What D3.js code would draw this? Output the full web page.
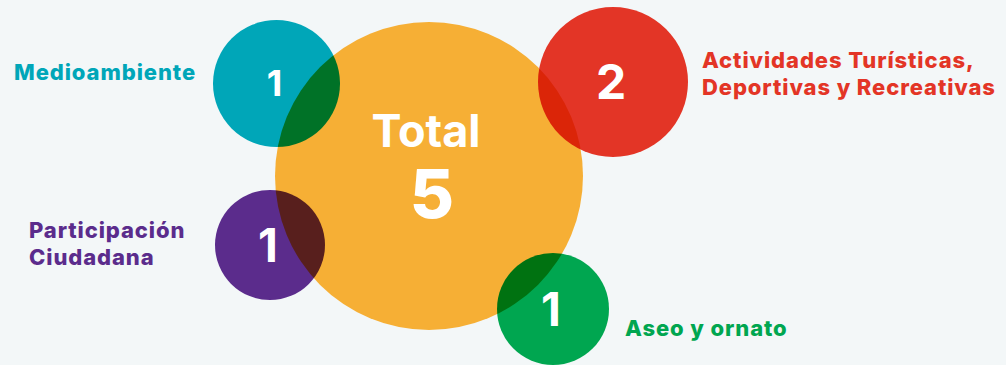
<!DOCTYPE html>
<html>
<head>
<meta charset="utf-8">
<script src="https://cdn.jsdelivr.net/npm/d3@7"></script>
<style>
  html, body { margin: 0; padding: 0; background: #f3f7f8; }
  svg { display: block; }
  text { font-family: Inter, "Open Sans", sans-serif; font-weight: 700; }
</style>
</head>
<body>
<div id="chart"></div>
<script>
// ---- data ----
const categories = ["Medioambiente", "Actividades Turísticas,|Deportivas y Recreativas", "Participación|Ciudadana", "Aseo y ornato"];
const values = [1, 2, 1, 1];
const colors = ["#00a6b8", "#e33526", "#5b2c8c", "#00a650"];
const totalLabel = "Total";
const totalColor = "#f6af35";

// ---- layout (not data) ----
const W = 1006, H = 365;
const center = { x: 429, y: 176, r: 154 };
const layout = [
  { cx: 276.5, cy: 83.5, r: 63.5, fs: 36, lx: 196, ly: 80, anchor: "end" },
  { cx: 613, cy: 82, r: 75, fs: 48, lx: 702, ly: 68, anchor: "start" },
  { cx: 270, cy: 245, r: 55, fs: 46, lx: 29, ly: 238, anchor: "start" },
  { cx: 553, cy: 309, r: 56, fs: 46, lx: 625, ly: 336, anchor: "start" }
];

const svg = d3.select("#chart").append("svg").attr("width", W).attr("height", H);
svg.append("rect").attr("width", W).attr("height", H).attr("fill", "#f3f7f8");

const g = svg.append("g").style("isolation", "isolate");
g.append("circle").attr("cx", center.x).attr("cy", center.y).attr("r", center.r).attr("fill", totalColor);

const items = categories.map((c, i) => ({ cat: c, value: values[i], color: colors[i], ...layout[i] }));

g.selectAll("circle.cat").data(items).join("circle")
  .attr("class", "cat")
  .attr("cx", d => d.cx).attr("cy", d => d.cy).attr("r", d => d.r)
  .attr("fill", d => d.color)
  .style("mix-blend-mode", "multiply");

// numbers
svg.selectAll("text.num").data(items).join("text")
  .attr("class", "num")
  .attr("x", d => d.cx - 2).attr("y", d => d.cy)
  .attr("dy", "0.36em")
  .attr("text-anchor", "middle")
  .attr("fill", "#fff")
  .attr("font-size", d => d.fs)
  .text(d => d.value);

// total
svg.append("text").attr("x", 426).attr("y", 147).attr("text-anchor", "middle")
  .attr("fill", "#fff").attr("font-size", 45).text(totalLabel);
svg.append("text").attr("x", 432).attr("y", 218).attr("text-anchor", "middle")
  .attr("fill", "#fff").attr("font-size", 68).style("font-weight", 800).text(d3.sum(values));

// labels
svg.selectAll("text.lab").data(items).join("text")
  .attr("class", "lab")
  .attr("x", d => d.lx).attr("y", d => d.ly)
  .attr("text-anchor", d => d.anchor)
  .attr("fill", d => d.color)
  .attr("font-size", 22)
  .style("font-weight", 800)
  .style("letter-spacing", "0.9px")
  .each(function(d) {
    const lines = d.cat.split("|");
    d3.select(this).selectAll("tspan").data(lines).join("tspan")
      .attr("x", d.lx).attr("dy", (l, i) => i === 0 ? 0 : 27)
      .text(l => l);
  });
</script>
</body>
</html>
